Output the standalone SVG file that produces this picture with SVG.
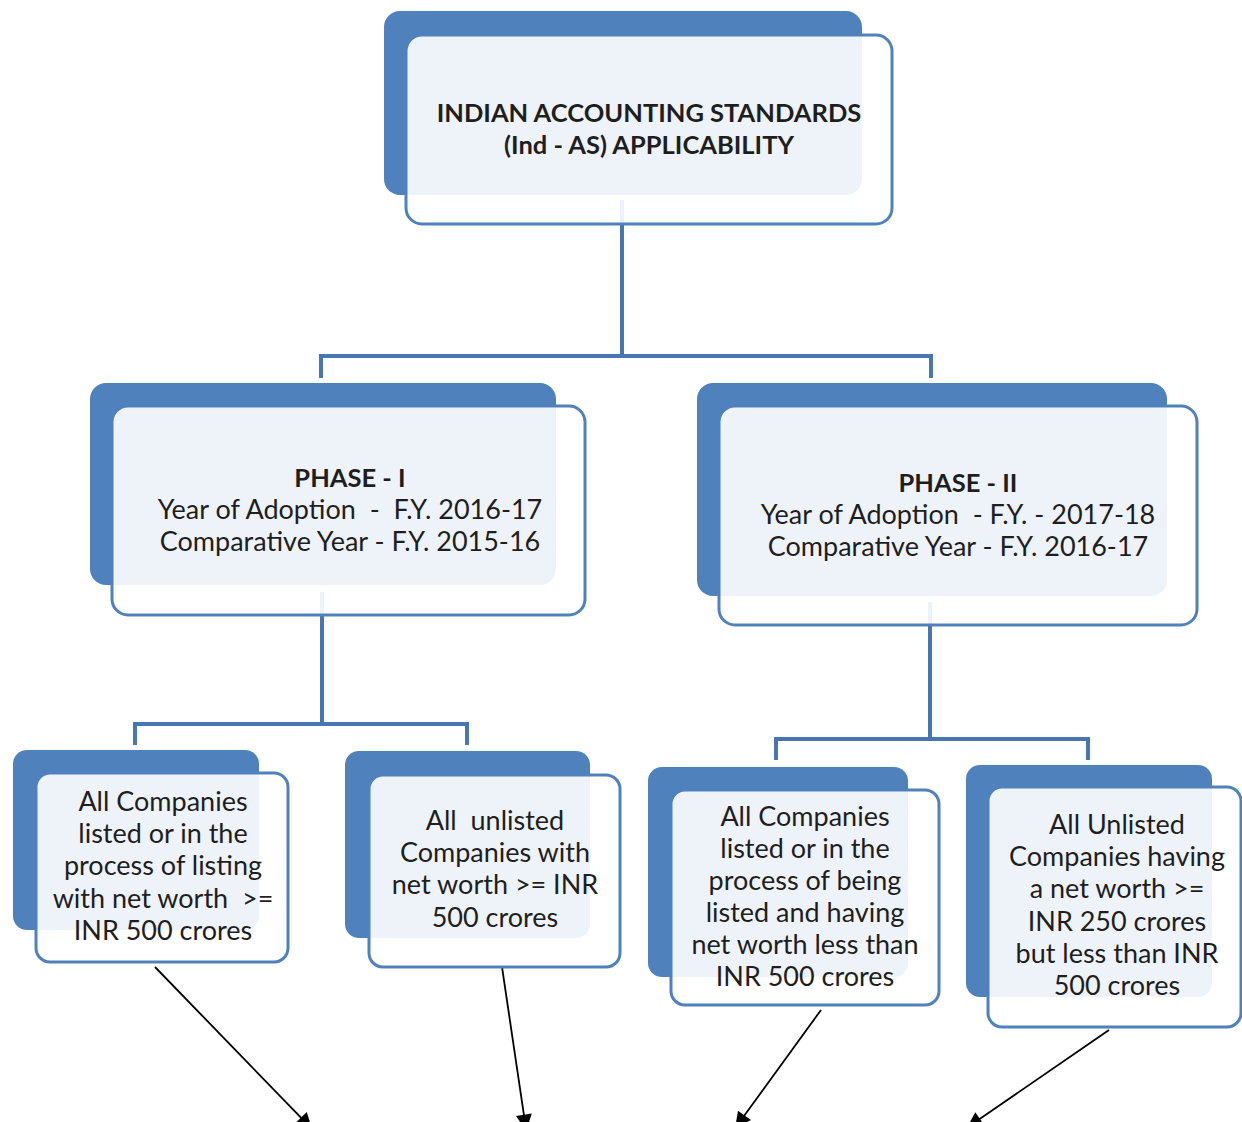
<svg xmlns="http://www.w3.org/2000/svg" width="1242" height="1122" viewBox="0 0 1242 1122">
<style>
.back{fill:#4f81bd}
.front{fill:#ffffff;fill-opacity:0.9;stroke:#4f81bd;stroke-width:3}
.conn{fill:none;stroke:#4677b3;stroke-width:4}
.arr{fill:none;stroke:#000;stroke-width:1.8}
text{font-family:Lato,"Open Sans","Liberation Sans",sans-serif;fill:#1e1e1e;text-anchor:middle}
.t{font-size:27px}
.b{font-size:25.5px;font-weight:bold}
</style>
<defs>
<marker id="ah" viewBox="0 0 10 10" refX="9" refY="5" markerWidth="17" markerHeight="16" markerUnits="userSpaceOnUse" orient="auto">
<path d="M0,0 L10,5 L0,10 z" fill="#000"/>
</marker>
</defs>
<rect width="1242" height="1122" fill="#fff"/>
<g id="connectors">
<path class="conn" d="M622,200 V356 M321,378 V356 H931 V378"/>
<path class="conn" d="M322,592 V724 M135,745 V724 H467 V745"/>
<path class="conn" d="M930,602 V739 M776,760 V739 H1088 V760"/>
<line class="arr" x1="155" y1="967" x2="311" y2="1128" marker-end="url(#ah)"/>
<line class="arr" x1="502" y1="967" x2="526" y2="1129" marker-end="url(#ah)"/>
<line class="arr" x1="821" y1="1010" x2="736" y2="1127" marker-end="url(#ah)"/>
<line class="arr" x1="1109" y1="1030" x2="968" y2="1127" marker-end="url(#ah)"/>
</g>
<g id="n-root">
<rect class="back" x="384" y="11" width="478" height="184" rx="16"/>
<rect class="front" x="406" y="35" width="486" height="189" rx="16"/>
<text class="b" x="649" y="122">INDIAN ACCOUNTING STANDARDS</text>
<text class="b" x="649" y="154">(Ind - AS) APPLICABILITY</text>
</g>
<g id="n-phase1">
<rect class="back" x="90" y="383" width="466" height="202" rx="16"/>
<rect class="front" x="112" y="406" width="473" height="209" rx="16"/>
<text class="b" x="350" y="487">PHASE - I</text>
<text class="t" x="350" y="519" xml:space="preserve">Year of Adoption  -  F.Y. 2016-17</text>
<text class="t" x="350" y="551">Comparative Year - F.Y. 2015-16</text>
</g>
<g id="n-phase2">
<rect class="back" x="697" y="383" width="470" height="213" rx="16"/>
<rect class="front" x="719" y="406" width="478" height="219" rx="16"/>
<text class="b" x="958" y="492">PHASE - II</text>
<text class="t" x="958" y="524" xml:space="preserve">Year of Adoption  - F.Y. - 2017-18</text>
<text class="t" x="958" y="556">Comparative Year - F.Y. 2016-17</text>
</g>
<g id="n-p1a">
<rect class="back" x="13" y="750" width="246" height="180" rx="14"/>
<rect class="front" x="36" y="773" width="252" height="189" rx="14"/>
<text class="t" x="163" y="811">All Companies</text>
<text class="t" x="163" y="843">listed or in the</text>
<text class="t" x="163" y="875">process of listing</text>
<text class="t" x="163" y="908" xml:space="preserve">with net worth  &gt;=</text>
<text class="t" x="163" y="940">INR 500 crores</text>
</g>
<g id="n-p1b">
<rect class="back" x="345" y="751" width="245" height="187" rx="14"/>
<rect class="front" x="369" y="775" width="251" height="192" rx="14"/>
<text class="t" x="495" y="830" xml:space="preserve">All  unlisted</text>
<text class="t" x="495" y="862">Companies with</text>
<text class="t" x="495" y="894">net worth &gt;= INR</text>
<text class="t" x="495" y="927">500 crores</text>
</g>
<g id="n-p2a">
<rect class="back" x="648" y="767" width="260" height="210" rx="14"/>
<rect class="front" x="671" y="790" width="268" height="215" rx="14"/>
<text class="t" x="805" y="826">All Companies</text>
<text class="t" x="805" y="858">listed or in the</text>
<text class="t" x="805" y="890">process of being</text>
<text class="t" x="805" y="922">listed and having</text>
<text class="t" x="805" y="954">net worth less than</text>
<text class="t" x="805" y="986">INR 500 crores</text>
</g>
<g id="n-p2b">
<rect class="back" x="966" y="765" width="246" height="232" rx="14"/>
<rect class="front" x="988" y="787" width="253" height="240" rx="14"/>
<text class="t" x="1117" y="834">All Unlisted</text>
<text class="t" x="1117" y="866">Companies having</text>
<text class="t" x="1117" y="898">a net worth &gt;=</text>
<text class="t" x="1117" y="931">INR 250 crores</text>
<text class="t" x="1117" y="963">but less than INR</text>
<text class="t" x="1117" y="995">500 crores</text>
</g>
</svg>
